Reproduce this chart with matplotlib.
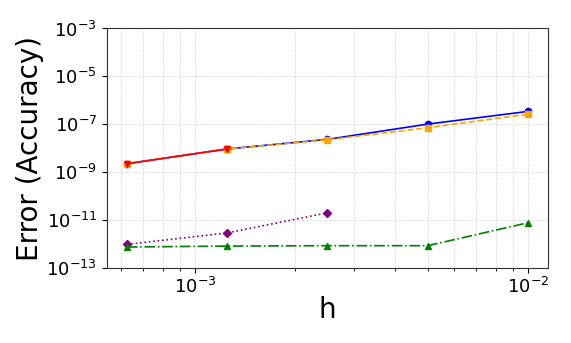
import matplotlib
matplotlib.use("Agg")
import matplotlib.pyplot as plt
from matplotlib.ticker import NullLocator

# step sizes
h = [6.25e-4, 1.25e-3, 2.5e-3, 5e-3, 1e-2]

# errors
err_blue = [2.2e-9, 9.1e-9, 2.3e-8, 1.0e-7, 3.4e-7]
err_orange = [2.2e-9, 9.1e-9, 2.2e-8, 7.1e-8, 2.6e-7]
h_red = [6.25e-4, 1.25e-3]
err_red = [2.2e-9, 9.1e-9]
h_purple = [6.25e-4, 1.25e-3, 2.5e-3]
err_purple = [9.3e-13, 2.8e-12, 1.95e-11]
err_green = [7.2e-13, 7.9e-13, 8.2e-13, 8.2e-13, 7.5e-12]

ytick_vals = [1e-13, 1e-11, 1e-9, 1e-7, 1e-5, 1e-3]

fig = plt.figure(figsize=(5.71, 3.43), dpi=100)
ax = fig.add_axes([0.187, 0.22, 0.773, 0.697])

ms = 4.5
ax.plot(h, err_blue, color="blue", linestyle="-", marker="o", markersize=ms, linewidth=1.2)
ax.plot(h, err_orange, color="orange", linestyle="--", marker="s", markersize=ms, linewidth=1.2)
ax.plot(h_red, err_red, color="red", linestyle="-", marker="v", markersize=ms, linewidth=1.2)
ax.plot(h_purple, err_purple, color="purple", linestyle=":", marker="D", markersize=ms, linewidth=1.2)
ax.plot(h, err_green, color="green", linestyle="-.", marker="^", markersize=ms, linewidth=1.2)

ax.set_xscale("log")
ax.set_yscale("log")
ax.set_ylim(1e-13, 1e-3)
ax.set_yticks(ytick_vals)
ax.yaxis.set_minor_locator(NullLocator())

ax.grid(True, which="both", linestyle="--", color="#dddddd", linewidth=0.6)
ax.tick_params(axis="both", which="major", labelsize=13)
for s in ax.spines.values():
    s.set_color("#333333")

ax.set_xlabel("h", fontsize=20, labelpad=-1)
ax.set_ylabel("Error (Accuracy)", fontsize=20, labelpad=2)

fig.savefig("out.png", dpi=100)
